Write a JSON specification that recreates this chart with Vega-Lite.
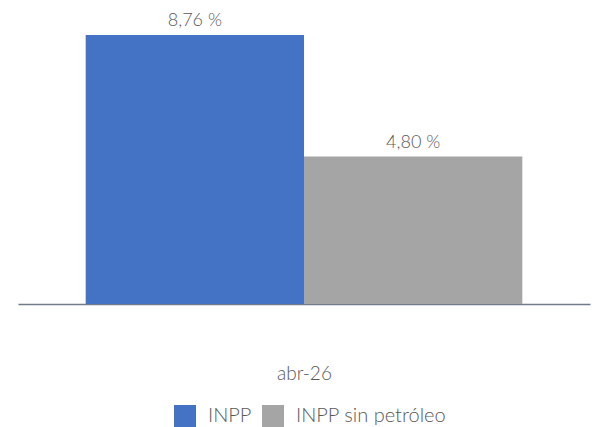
{
  "$schema": "https://vega.github.io/schema/vega-lite/v6.json",
  "width": 572,
  "height": 296,
  "autosize": "none",
  "padding": {"left": 18, "top": 8, "right": 11, "bottom": 123},
  "background": "white",
  "config": {"view": {"stroke": null}, "font": "Lato"},
  "data": {"values": [
    {"serie": "INPP", "periodo": "abr-26", "valor": 8.76},
    {"serie": "INPP sin petróleo", "periodo": "abr-26", "valor": 4.80}
  ]},
  "transform": [{"calculate": "replace(format(datum.valor, '.2f'), '.', ',') + ' %'", "as": "etiqueta"}],
  "encoding": {
    "x": {"field": "serie", "type": "nominal", "sort": ["INPP", "INPP sin petróleo"],
      "scale": {"paddingInner": 0, "paddingOuter": 0.31},
      "axis": {"title": "abr-26", "labels": false, "ticks": false, "domainColor": "#6F7B88", "domainWidth": 1.5,
        "titleFont": "Lato", "titleFontSize": 19, "titleFontWeight": 300, "titleColor": "#595959", "titlePadding": 60}},
    "y": {"field": "valor", "type": "quantitative", "scale": {"domain": [0, 9.64], "nice": false}, "axis": null}
  },
  "layer": [
    {"mark": {"type": "bar"},
     "encoding": {"color": {"field": "serie", "type": "nominal",
       "scale": {"domain": ["INPP", "INPP sin petróleo"], "range": ["#4472C4", "#A5A5A5"]},
       "legend": {"title": null, "orient": "none", "legendX": 156, "legendY": 397, "direction": "horizontal",
         "symbolType": "square", "symbolSize": 484, "symbolStrokeWidth": 0, "labelFontSize": 20, "labelFontWeight": 300, "labelColor": "#595959",
         "labelFont": "Lato", "columnPadding": 10, "labelOffset": 12}}}},
    {"mark": {"type": "text", "baseline": "bottom", "dy": -5, "fontSize": 18, "fontWeight": 300, "color": "#595959", "font": "Lato"},
     "encoding": {"text": {"field": "etiqueta"}}}
  ]
}
